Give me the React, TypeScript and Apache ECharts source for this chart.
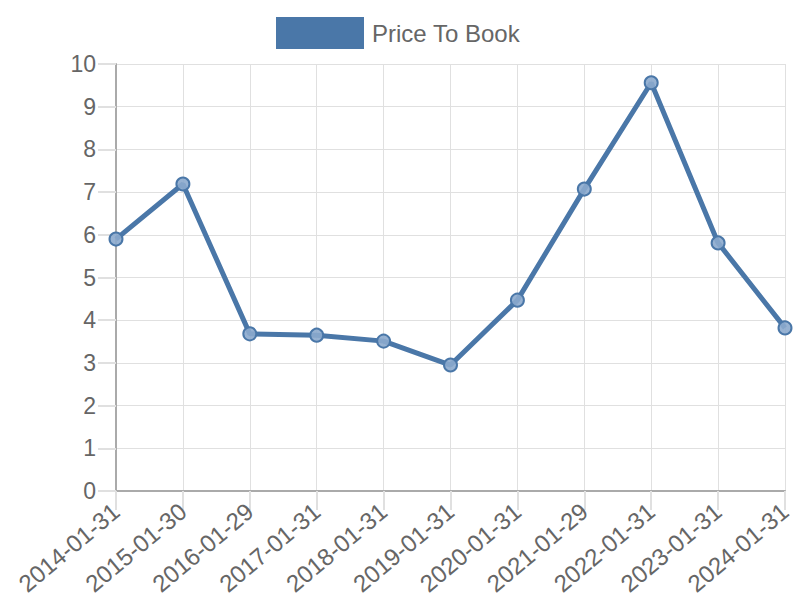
import React, { useEffect, useRef } from "react";
import * as echarts from "echarts";

const categories = [
  "2014-01-31", "2015-01-30", "2016-01-29", "2017-01-31", "2018-01-31",
  "2019-01-31", "2020-01-31", "2021-01-29", "2022-01-31", "2023-01-31", "2024-01-31",
];
const priceToBook = [5.9, 7.19, 3.68, 3.65, 3.51, 2.95, 4.47, 7.07, 9.56, 5.81, 3.82];
const seriesName = "Price To Book";

export default function App() {
  const ref = useRef<HTMLDivElement>(null);
  useEffect(() => {
    if (!ref.current) return;
    const chart = echarts.init(ref.current, undefined, { renderer: "svg" });
    const font = "'Liberation Sans', Arial, sans-serif";
    chart.setOption({
      animation: false,
      legend: {
        top: 17,
        left: 276,
        padding: 0,
        itemWidth: 86,
        itemHeight: 30,
        icon: "rect",
        textStyle: { fontSize: 24, color: "#666", fontFamily: font, padding: [0, 0, 0, 4] },
        data: [{ name: seriesName, icon: "rect", itemStyle: { color: "#4a77a8" } }],
      },
      grid: { left: 116, right: 15, top: 64, bottom: 109, containLabel: false },
      xAxis: {
        type: "category",
        data: categories,
        boundaryGap: false,
        axisLine: { lineStyle: { color: "#aaa", width: 2 } },
        axisTick: { show: true, length: 19, lineStyle: { color: "#e0e0e0", width: 2 }, alignWithLabel: true },
        axisLabel: { rotate: 40, fontSize: 24, color: "#666", fontFamily: font, margin: 17, interval: 0 },
        splitLine: { show: true, lineStyle: { color: "#e0e0e0", width: 1 } },
      },
      yAxis: {
        type: "value",
        min: 0,
        max: 10,
        interval: 1,
        axisLine: { show: true, lineStyle: { color: "#aaa", width: 2 } },
        axisTick: { show: true, length: 18, lineStyle: { color: "#e0e0e0", width: 2 } },
        axisLabel: { fontSize: 23, color: "#666", fontFamily: font, margin: 20 },
        splitLine: { show: true, lineStyle: { color: "#e0e0e0", width: 1 } },
      },
      series: [
        {
          name: seriesName,
          type: "line",
          data: priceToBook,
          symbol: "circle",
          symbolSize: 13,
          showAllSymbol: true,
          lineStyle: { color: "#4a77a8", width: 5 },
          itemStyle: { color: "rgba(140,170,205,0.9)", borderColor: "#4a77a8", borderWidth: 2 },
        },
      ],
    });
    return () => chart.dispose();
  }, []);
  return <div ref={ref} style={{ width: 800, height: 600, position: "absolute", left: 0, top: 0 }} />;
}
